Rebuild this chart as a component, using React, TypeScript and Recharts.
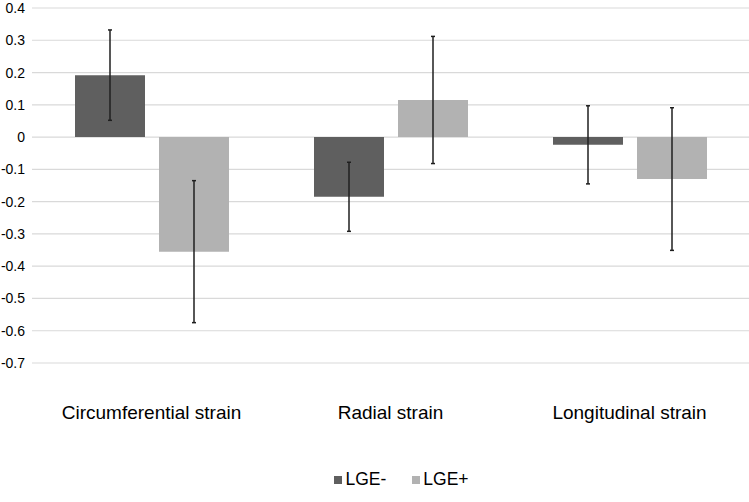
import { Bar, BarChart, CartesianGrid, ErrorBar, Legend, XAxis, YAxis } from "recharts";

const categories = ["Circumferential strain", "Radial strain", "Longitudinal strain"];
const lgeMinus = [0.192, -0.185, -0.024];
const lgeMinusErr = [0.14, 0.107, 0.121];
const lgePlus = [-0.355, 0.115, -0.13];
const lgePlusErr = [0.22, 0.197, 0.221];
const yTicks = [0.4, 0.3, 0.2, 0.1, 0, -0.1, -0.2, -0.3, -0.4, -0.5, -0.6, -0.7];

const darkBar = "#5f5f5f";
const lightBar = "#b2b2b2";
const font = "'Liberation Sans', Arial, sans-serif";

const data = categories.map((name, i) => ({
  name,
  minus: lgeMinus[i],
  minusErr: lgeMinusErr[i],
  plus: lgePlus[i],
  plusErr: lgePlusErr[i],
}));

function LegendBox() {
  const items = [
    { label: "LGE-", color: darkBar },
    { label: "LGE+", color: lightBar },
  ];
  return (
    <div style={{ display: "flex", justifyContent: "center", fontFamily: font, fontSize: 17.5, color: "#000" }}>
      {items.map((it) => (
        <div key={it.label} style={{ display: "flex", alignItems: "center", margin: "0 13px" }}>
          <span style={{ width: 8, height: 8, background: it.color, marginRight: 3, display: "inline-block" }} />
          <span>{it.label}</span>
        </div>
      ))}
    </div>
  );
}

export default function App() {
  return (
    <div style={{ position: "absolute", left: 0, top: 0, background: "#fff" }}>
      <BarChart width={749} height={502} data={data} margin={{ top: 8, right: 0, left: 0, bottom: 0 }} barSize={70} barGap={14}>
        <CartesianGrid vertical={false} stroke="#d9d9d9" strokeWidth={1.2} />
        <XAxis
          dataKey="name"
          axisLine={false}
          tickLine={false}
          height={139}
          tickMargin={37}
          tick={{ fontSize: 19, fill: "#000", fontFamily: font }}
        />
        <YAxis
          domain={[-0.7, 0.4]}
          ticks={yTicks}
          interval={0}
          axisLine={false}
          tickLine={false}
          width={32}
          tickMargin={1}
          tickFormatter={(v: number) => (v === 0 ? "0" : v.toFixed(1))}
          tick={{ fontSize: 14, fill: "#000", fontFamily: font }}
        />
        <Legend verticalAlign="middle" align="center" wrapperStyle={{ top: 469, left: 27, width: 749 }} content={() => <LegendBox />} />
        <Bar dataKey="minus" name="LGE-" fill={darkBar} isAnimationActive={false}>
          <ErrorBar dataKey="minusErr" width={2} stroke="#1f1f1f" strokeWidth={1.5} />
        </Bar>
        <Bar dataKey="plus" name="LGE+" fill={lightBar} isAnimationActive={false}>
          <ErrorBar dataKey="plusErr" width={2} stroke="#1f1f1f" strokeWidth={1.5} />
        </Bar>
      </BarChart>
    </div>
  );
}
